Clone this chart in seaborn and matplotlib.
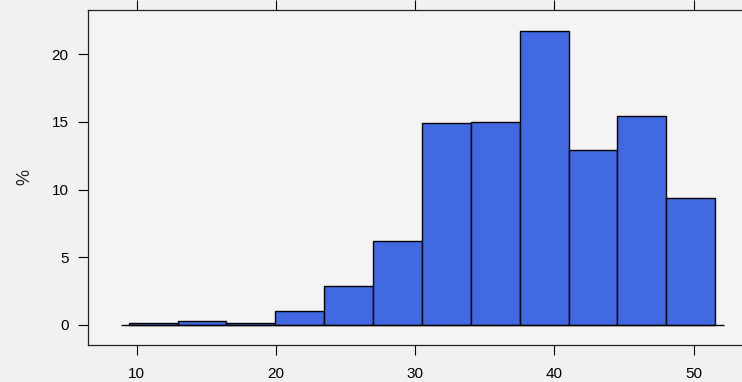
import matplotlib
matplotlib.use("Agg")
import matplotlib.pyplot as plt
import seaborn as sns

# histogram bins and percent per bin
bin_edges = [9.42, 12.93, 16.44, 19.95, 23.46, 26.97, 30.48,
             33.99, 37.50, 41.01, 44.52, 48.03, 51.54]
bin_mids = [11.18, 14.69, 18.20, 21.71, 25.22, 28.73,
            32.24, 35.75, 39.26, 42.77, 46.28, 49.79]
percent = [0.1, 0.3, 0.1, 1.0, 2.84, 6.17,
           14.94, 14.97, 21.75, 12.94, 15.41, 9.37]
x_ticks = [10, 20, 30, 40, 50]
y_ticks = [0, 5, 10, 15, 20]

sns.set_style("white")
plt.rcParams['font.family'] = ['Liberation Sans', 'DejaVu Sans']

bg = '#f1f1f1'
fig = plt.figure(figsize=(7.42, 3.82), dpi=100, facecolor=bg)
ax = fig.add_axes([0.1186, 0.0976, 0.900, 0.876])
ax.set_facecolor('#f4f4f4')

sns.histplot(x=bin_mids, weights=percent, bins=bin_edges, ax=ax,
             color='#4169e1', alpha=1, edgecolor='black', linewidth=1)
ax.hlines(0, 8.85, 52.15, color='black', linewidth=1)

ax.set_xlim(6.5, 54.46)
ax.set_ylim(-1.48, 23.28)
ax.set_xticks(x_ticks)
ax.set_yticks(y_ticks)
ax.tick_params(axis='both', direction='out', length=7, width=0.8,
               labelsize=11, colors='black')
ax.tick_params(axis='x', top=True, labeltop=False, bottom=True, pad=9)
ax.tick_params(axis='y', left=True, right=False, pad=7)
for s in ax.spines.values():
    s.set_color('#222222')
    s.set_linewidth(0.9)
ax.set_xlabel('')
ax.set_ylabel('%', fontsize=13)
ax.yaxis.set_label_coords(-0.082, 0.5)

fig.savefig('out.png', dpi=100, facecolor=bg)
